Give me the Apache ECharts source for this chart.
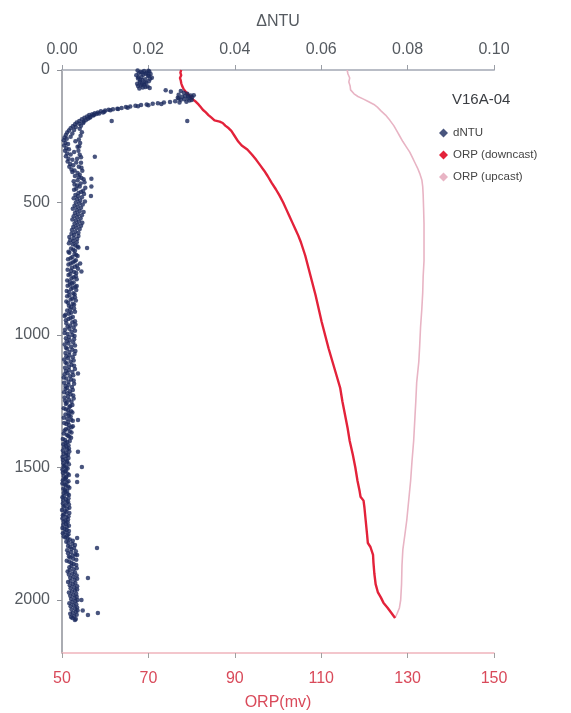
<!DOCTYPE html>
<html>
<head>
<meta charset="utf-8">
<script src="https://cdn.jsdelivr.net/npm/echarts@6/dist/echarts.min.js"></script>
<style>
  html, body { margin: 0; padding: 0; background: #ffffff; }
  #chart { width: 571px; height: 713px; }
</style>
</head>
<body>
<div id="chart"></div>
<script>
// Station profile V16A-04: turbidity anomaly and ORP against depth (m)

// dNTU readings: depth (m) and value
const ntuDepth = [
  2, 4, 6, 8, 10, 12, 15, 18, 20, 23, 26, 29, 32, 35, 38, 42, 45, 48, 52, 55, 58, 62, 66, 70,
  3, 9, 14, 21, 27, 33, 40, 47, 53, 60, 64, 68,
  76, 82, 79,
  86, 90, 93, 96, 98, 101, 103, 105, 107, 110, 112, 115, 118, 120, 123, 95, 100, 108, 113,
  121, 123, 125, 127, 130, 132, 135, 138, 140, 143, 146, 148, 150, 153, 156, 160, 163, 167, 170, 175, 180, 186, 192, 198, 205, 212, 220, 228, 236, 245,
  128, 133, 137, 142, 147, 152, 158, 164, 170, 177, 184, 195, 203, 215, 226, 240, 252,
  160, 166, 172, 180, 190, 200, 210, 222, 235, 248, 262, 275, 290, 305,
  255, 265, 275, 285, 295, 305, 315, 325, 335, 345, 355, 365, 375, 385,
  259, 269, 279, 289, 299, 309, 319, 329, 339, 349, 359, 369, 379, 389,
  320, 335, 350, 365, 380, 395,
  192, 192, 327, 410, 440, 475, 672, 730, 760, 815,
  400, 408, 416, 424, 432, 440, 448, 456, 464, 472, 480, 488, 496, 504, 512, 520, 528, 536, 544, 552, 560, 568, 576, 584, 592, 600,
  404, 412, 420, 428, 436, 444, 452, 460, 468, 476, 484, 492, 500, 508, 516, 524, 532, 540, 548, 556, 564, 572, 580, 588, 596, 604,
  610, 618, 626, 634, 642, 650, 658, 666, 674, 682, 690, 698, 706, 714, 722, 730, 738, 746, 754, 762, 770, 778, 786, 794, 802, 810, 818, 826, 834, 842, 850, 858, 866, 874, 882, 890,
  614, 622, 630, 638, 646, 654, 662, 670, 678, 686, 694, 702, 710, 718, 726, 734, 742, 750, 758, 766, 774, 782, 790, 798, 806, 814, 822, 830, 838, 846, 854, 862, 870, 878, 886, 894,
  900, 908, 916, 924, 932, 940, 948, 956, 964, 972, 980, 988, 996, 1004, 1012, 1020, 1028, 1036, 1044, 1052, 1060, 1068, 1076, 1084, 1092, 1100,
  904, 912, 920, 928, 936, 944, 952, 960, 968, 976, 984, 992, 1000, 1008, 1016, 1024, 1032, 1040, 1048, 1056, 1064, 1072, 1080, 1088, 1096,
  1108, 1116, 1124, 1132, 1140, 1148, 1156, 1164, 1172, 1180, 1188, 1196, 1204, 1212, 1220, 1228, 1236, 1244, 1252, 1260, 1268, 1276, 1284, 1292,
  1104, 1112, 1120, 1128, 1136, 1144, 1152, 1160, 1168, 1176, 1184, 1192, 1200, 1208, 1216, 1224, 1232, 1240, 1248, 1256, 1264, 1272, 1280, 1288, 1296,
  1300, 1308, 1316, 1324, 1332, 1340, 1348, 1356, 1364, 1372, 1380, 1388, 1396, 1404, 1412, 1420, 1428, 1436, 1444, 1452, 1460, 1468, 1476, 1484, 1492,
  1304, 1312, 1320, 1328, 1336, 1344, 1352, 1360, 1368, 1376, 1384, 1392, 1400, 1408, 1416, 1424, 1432, 1440, 1448, 1456, 1464, 1472, 1480, 1488, 1496,
  1500, 1508, 1516, 1524, 1532, 1540, 1548, 1556, 1564, 1572, 1580,
  1504, 1512, 1520, 1528, 1536, 1544, 1552, 1560, 1568, 1576, 1584,
  1588, 1596, 1604, 1612, 1620, 1628, 1636, 1644, 1652, 1660, 1668, 1676, 1684, 1692, 1700, 1708, 1716, 1724, 1732, 1740, 1748, 1756, 1764,
  1592, 1600, 1608, 1616, 1624, 1632, 1640, 1648, 1656, 1664, 1672, 1680, 1688, 1696, 1704, 1712, 1720, 1728, 1736, 1744, 1752, 1760, 1768,
  1772, 1780, 1788, 1796, 1804, 1812, 1820, 1828, 1836, 1844, 1852, 1860, 1868, 1876, 1884, 1892, 1900, 1908, 1916, 1924, 1932, 1940, 1948,
  1956, 1964, 1972, 1980, 1988, 1996, 2004, 2012, 2020, 2028, 2036, 2044, 2052, 2060, 2068, 2075,
  1776, 1784, 1792, 1800, 1808, 1816, 1824, 1832, 1840, 1848, 1856, 1864, 1872, 1880, 1888, 1896, 1904, 1912, 1920, 1928, 1936, 1944,
  1952, 1960, 1968, 1976, 1984, 1992, 2000, 2008, 2016, 2024, 2032, 2040, 2048, 2056, 2064, 2072,
  1145, 1321, 1441, 1498, 1530, 1555, 1766, 1804, 1830, 1917, 2000, 2040, 2057, 2049
];
const ntuValue = [
  0.0175, 0.0190, 0.0202, 0.0182, 0.0196, 0.0178, 0.0205, 0.0188, 0.0172, 0.0199, 0.0184, 0.0208, 0.0176, 0.0193, 0.0186, 0.0201, 0.0180, 0.0195, 0.0174, 0.0190, 0.0183, 0.0198, 0.0187, 0.0179,
  0.0200, 0.0186, 0.0194, 0.0201, 0.0177, 0.0204, 0.0181, 0.0191, 0.0185, 0.0176, 0.0193, 0.0203,
  0.0240, 0.0252, 0.0275,
  0.0282, 0.0290, 0.0270, 0.0298, 0.0285, 0.0278, 0.0301, 0.0268, 0.0292, 0.0283, 0.0275, 0.0295, 0.0262, 0.0288, 0.0272, 0.0305, 0.0292, 0.0270, 0.0300,
  0.0250, 0.0236, 0.0222, 0.0210, 0.0196, 0.0183, 0.0170, 0.0158, 0.0148, 0.0138, 0.0128, 0.0118, 0.0108, 0.0100, 0.0090, 0.0083, 0.0076, 0.0070, 0.0063, 0.0058, 0.0052, 0.0046, 0.0040, 0.0034, 0.0030, 0.0025, 0.0020, 0.0016, 0.0012, 0.0009,
  0.0230, 0.0200, 0.0176, 0.0152, 0.0130, 0.0112, 0.0098, 0.0086, 0.0074, 0.0066, 0.0060, 0.0050, 0.0040, 0.0032, 0.0028, 0.0024, 0.0020,
  0.0095, 0.0080, 0.0072, 0.0064, 0.0055, 0.0049, 0.0044, 0.0041, 0.0046, 0.0043, 0.0039, 0.0042, 0.0036, 0.0038,
  0.0006, 0.0004, 0.0008, 0.0005, 0.0010, 0.0007, 0.0012, 0.0009, 0.0015, 0.0013, 0.0019, 0.0017, 0.0022, 0.0024,
  0.0011, 0.0031, 0.0014, 0.0040, 0.0016, 0.0028, 0.0020, 0.0044, 0.0024, 0.0033, 0.0026, 0.0045, 0.0029, 0.0036,
  0.0041, 0.0035, 0.0044, 0.0039, 0.0047, 0.0041,
  0.0115, 0.0290, 0.0076, 0.0068, 0.0068, 0.0067, 0.0058, 0.0042, 0.0045, 0.0034,
  0.0030, 0.0045, 0.0036, 0.0052, 0.0029, 0.0041, 0.0033, 0.0049, 0.0038, 0.0031, 0.0046, 0.0035, 0.0053, 0.0040, 0.0029, 0.0044, 0.0034, 0.0050, 0.0037, 0.0027, 0.0043, 0.0032, 0.0047, 0.0036, 0.0026, 0.0041,
  0.0039, 0.0050, 0.0027, 0.0043, 0.0035, 0.0054, 0.0028, 0.0044, 0.0051, 0.0037, 0.0027, 0.0042, 0.0032, 0.0048, 0.0036, 0.0025, 0.0041, 0.0030, 0.0046, 0.0035, 0.0024, 0.0039, 0.0029, 0.0044, 0.0033, 0.0023,
  0.0031, 0.0022, 0.0038, 0.0027, 0.0019, 0.0034, 0.0025, 0.0036, 0.0021, 0.0030, 0.0017, 0.0033, 0.0024, 0.0014, 0.0029, 0.0020, 0.0035, 0.0023, 0.0013, 0.0028, 0.0019, 0.0032, 0.0022, 0.0012, 0.0027, 0.0018, 0.0031, 0.0021, 0.0011, 0.0026, 0.0017, 0.0030, 0.0020, 0.0010, 0.0025, 0.0016,
  0.0038, 0.0028, 0.0017, 0.0035, 0.0026, 0.0016, 0.0031, 0.0038, 0.0026, 0.0015, 0.0029, 0.0036, 0.0020, 0.0032, 0.0025, 0.0015, 0.0030, 0.0037, 0.0021, 0.0033, 0.0015, 0.0027, 0.0034, 0.0018, 0.0023, 0.0013, 0.0025, 0.0033, 0.0016, 0.0029, 0.0012, 0.0024, 0.0032, 0.0014, 0.0028, 0.0021,
  0.0028, 0.0012, 0.0021, 0.0008, 0.0025, 0.0015, 0.0030, 0.0010, 0.0019, 0.0027, 0.0007, 0.0022, 0.0013, 0.0029, 0.0009, 0.0018, 0.0026, 0.0006, 0.0021, 0.0012, 0.0031, 0.0008, 0.0017, 0.0025, 0.0005, 0.0020,
  0.0019, 0.0030, 0.0016, 0.0006, 0.0020, 0.0009, 0.0024, 0.0031, 0.0013, 0.0017, 0.0030, 0.0006, 0.0024, 0.0016, 0.0028, 0.0011, 0.0015, 0.0030, 0.0009, 0.0024, 0.0017, 0.0029, 0.0010, 0.0014, 0.0027,
  0.0011, 0.0028, 0.0007, 0.0016, 0.0024, 0.0006, 0.0019, 0.0010, 0.0027, 0.0005, 0.0015, 0.0023, 0.0008, 0.0018, 0.0012, 0.0026, 0.0006, 0.0016, 0.0022, 0.0009, 0.0019, 0.0004, 0.0014, 0.0024,
  0.0008, 0.0022, 0.0016, 0.0030, 0.0009, 0.0013, 0.0026, 0.0004, 0.0021, 0.0015, 0.0028, 0.0008, 0.0012, 0.0025, 0.0005, 0.0020, 0.0014, 0.0027, 0.0007, 0.0011, 0.0024, 0.0017, 0.0009, 0.0021, 0.0015,
  0.0008, 0.0020, 0.0012, 0.0025, 0.0005, 0.0016, 0.0022, 0.0009, 0.0018, 0.0004, 0.0014, 0.0021, 0.0007, 0.0012, 0.0003, 0.0010, 0.0016, 0.0002, 0.0009, 0.0014, 0.0001, 0.0008, 0.0012, 0.0003, 0.0006,
  0.0016, 0.0004, 0.0021, 0.0014, 0.0010, 0.0025, 0.0015, 0.0006, 0.0022, 0.0011, 0.0017, 0.0002, 0.0018, 0.0008, 0.0015, 0.0005, 0.0012, 0.0017, 0.0004, 0.0010, 0.0015, 0.0002, 0.0011, 0.0016, 0.0004,
  0.0010, 0.0001, 0.0007, 0.0013, 0.0004, 0.0009, 0.0002, 0.0011, 0.0006, 0.0014, 0.0003,
  0.0013, 0.0009, 0.0002, 0.0016, 0.0010, 0.0006, 0.0015, 0.0001, 0.0009, 0.0017, 0.0007,
  0.0012, 0.0004, 0.0016, 0.0001, 0.0009, 0.0014, 0.0002, 0.0007, 0.0017, 0.0000, 0.0010, 0.0005, 0.0015, 0.0001, 0.0008, 0.0013, 0.0003, 0.0011, 0.0006, 0.0016, 0.0002, 0.0012, 0.0008,
  0.0008, 0.0013, 0.0005, 0.0015, 0.0003, 0.0011, 0.0016, 0.0004, 0.0012, 0.0007, 0.0017, 0.0002, 0.0010, 0.0014, 0.0004, 0.0009, 0.0016, 0.0001, 0.0011, 0.0007, 0.0015, 0.0004, 0.0013,
  0.0018, 0.0010, 0.0024, 0.0014, 0.0028, 0.0012, 0.0021, 0.0031, 0.0016, 0.0026, 0.0011, 0.0022, 0.0033, 0.0017, 0.0027, 0.0013, 0.0024, 0.0034, 0.0019, 0.0029, 0.0014, 0.0025, 0.0035,
  0.0020, 0.0030, 0.0016, 0.0026, 0.0034, 0.0021, 0.0031, 0.0017, 0.0027, 0.0035, 0.0022, 0.0032, 0.0019, 0.0028, 0.0024, 0.0030,
  0.0025, 0.0015, 0.0030, 0.0019, 0.0022, 0.0032, 0.0014, 0.0025, 0.0019, 0.0033, 0.0017, 0.0027, 0.0022, 0.0034, 0.0018, 0.0030, 0.0016, 0.0026, 0.0035, 0.0020, 0.0031, 0.0018,
  0.0028, 0.0035, 0.0023, 0.0033, 0.0019, 0.0029, 0.0036, 0.0024, 0.0033, 0.0020, 0.0030, 0.0036, 0.0025, 0.0034, 0.0021, 0.0032,
  0.0037, 0.0037, 0.0037, 0.0046, 0.0035, 0.0035, 0.0035, 0.0081, 0.0035, 0.0060, 0.0045, 0.0048, 0.0060, 0.0083
];

// ORP on the way down: depth (m) and mV
const downDepth = [
  0, 10, 20, 30, 40, 50, 60, 70, 80, 90, 100, 110, 120, 130, 140, 150, 160, 170, 180, 190, 195, 200, 210, 220, 230, 250, 270, 285,
  300, 320, 340, 360, 380, 400, 425, 450, 475, 500, 525, 550, 575, 600, 625, 650, 700, 750, 800, 850, 900, 950, 1000,
  1050, 1100, 1150, 1200, 1250, 1300, 1350, 1400, 1450, 1500, 1550, 1590, 1610, 1625, 1650, 1700, 1750, 1785, 1800,
  1830, 1860, 1900, 1940, 1970, 1990, 2010, 2030, 2050, 2068
];
const downOrp = [
  77.6, 77.4, 77.6, 77.3, 77.5, 77.6, 77.8, 78.1, 78.5, 79.1, 79.7, 80.2, 81.0, 81.6, 82.1, 82.6, 83.3, 83.9, 84.6, 85.3, 86.5, 87.2, 87.8, 88.6, 89.2, 90.0, 90.8, 91.6,
  92.9, 94.0, 95.0, 95.9, 96.8, 97.6, 98.5, 99.5, 100.4, 101.2, 101.9, 102.6, 103.3, 104.0, 104.7, 105.3, 106.3, 107.1, 107.9, 108.7, 109.4, 110.1, 110.9,
  111.7, 112.6, 113.5, 114.4, 114.9, 115.5, 116.1, 116.6, 117.3, 117.9, 118.4, 118.9, 119.1, 119.8, 120.0, 120.3, 120.6, 120.8, 121.4,
  122.0, 122.1, 122.3, 122.6, 123.1, 123.8, 124.4, 125.4, 126.3, 127.1
];

// ORP on the way up: depth (m) and mV
const upDepth = [
  0, 15, 30, 45, 60, 75, 90, 100, 110, 120, 130, 140, 155, 170, 190, 210, 230, 250, 270, 290, 310, 330, 350, 370, 390, 415, 440, 470,
  520, 580, 650, 720, 780, 840, 900, 970, 1040, 1100, 1180, 1250, 1310, 1400, 1480, 1550, 1600, 1650, 1700, 1750, 1810, 1870,
  1940, 2000, 2030, 2050, 2068
];
const upOrp = [
  116.0, 116.2, 116.6, 116.4, 116.7, 116.8, 117.6, 118.5, 119.8, 121.0, 122.2, 123.0, 123.9, 124.9, 125.9, 126.8, 127.5, 128.2, 128.9, 129.7, 130.5, 131.1, 131.7, 132.3, 132.8, 133.3, 133.5, 133.6,
  133.7, 133.8, 133.8, 133.8, 133.6, 133.5, 133.3, 133.0, 132.8, 132.6, 132.1, 131.9, 131.7, 131.4, 131.0, 130.7, 130.4, 130.1, 129.8, 129.4, 128.9, 128.7,
  128.6, 128.4, 128.1, 127.6, 127.1
];

// Axis tick values
const depthTicks = [0, 500, 1000, 1500, 2000];
const ntuTicks = [0, 0.02, 0.04, 0.06, 0.08, 0.10];
const orpTicks = [50, 70, 90, 110, 130, 150];

const pair = (xs, ys) => xs.map((x, i) => [x, ys[i]]);

const FONT = 'Liberation Sans, Arial, sans-serif';
const GREY = '#555a60';
const RED = '#d94a5a';

const chart = echarts.init(document.getElementById('chart'), null, { renderer: 'canvas' });

chart.setOption({
  animation: false,
  backgroundColor: '#ffffff',
  textStyle: { fontFamily: FONT },
  title: {
    text: 'V16A-04',
    left: 447,
    top: 87,
    textStyle: { fontFamily: FONT, fontSize: 15, fontWeight: 'normal', color: '#3a3d42' }
  },
  legend: {
    orient: 'vertical',
    left: 434,
    top: 122,
    itemWidth: 9,
    itemHeight: 9,
    itemGap: 10,
    textStyle: { fontFamily: FONT, fontSize: 11.5, color: '#444' },
    data: [
      { name: 'dNTU', icon: 'diamond' },
      { name: 'ORP (downcast)', icon: 'diamond' },
      { name: 'ORP (upcast)', icon: 'diamond' }
    ]
  },
  grid: { left: 62, right: 77, top: 70, bottom: 60, containLabel: false, outerBoundsMode: 'none' },
  xAxis: [
    {
      type: 'value',
      position: 'top',
      min: ntuTicks[0],
      max: ntuTicks[ntuTicks.length - 1],
      interval: 0.02,
      name: 'ΔNTU',
      nameLocation: 'middle',
      nameGap: 40,
      nameTextStyle: { fontFamily: FONT, fontSize: 16, color: GREY },
      axisLine: { show: true, lineStyle: { color: '#b9bdc6', width: 2 } },
      axisTick: { show: true, length: 5, lineStyle: { color: '#9a9ea6' } },
      axisLabel: { fontFamily: FONT, fontSize: 16, color: GREY, margin: 12,
        formatter: v => v.toFixed(2) },
      splitLine: { show: false }
    },
    {
      type: 'value',
      position: 'bottom',
      min: orpTicks[0],
      max: orpTicks[orpTicks.length - 1],
      interval: 20,
      name: 'ORP(mv)',
      nameLocation: 'middle',
      nameGap: 42,
      nameTextStyle: { fontFamily: FONT, fontSize: 16, color: RED },
      axisLine: { show: true, lineStyle: { color: '#f0b4bc', width: 1.5 } },
      axisTick: { show: true, length: 5, lineStyle: { color: '#a0a0a0' } },
      axisLabel: { fontFamily: FONT, fontSize: 16, color: RED, margin: 18 },
      splitLine: { show: false }
    }
  ],
  yAxis: {
    type: 'value',
    inverse: true,
    min: depthTicks[0],
    max: 2200,
    interval: 500,
    axisLine: { show: true, lineStyle: { color: '#8e9198', width: 1.5 } },
    axisTick: { show: true, length: 5, lineStyle: { color: '#8e9198' } },
    axisLabel: { fontFamily: FONT, fontSize: 16, color: GREY, margin: 12, showMaxLabel: false,
      formatter: v => (depthTicks.indexOf(v) >= 0 ? String(v) : '') },
    splitLine: { show: false }
  },
  series: [
    {
      name: 'ORP (upcast)',
      type: 'line',
      xAxisIndex: 1,
      yAxisIndex: 0,
      data: pair(upOrp, upDepth),
      showSymbol: false,
      symbol: 'diamond',
      color: '#e8b4c4',
      lineStyle: { color: '#e8b4c4', width: 1.6 },
      z: 2
    },
    {
      name: 'ORP (downcast)',
      type: 'line',
      xAxisIndex: 1,
      yAxisIndex: 0,
      data: pair(downOrp, downDepth),
      showSymbol: false,
      symbol: 'diamond',
      color: '#e3223a',
      lineStyle: { color: '#e3223a', width: 2.4 },
      z: 3
    },
    {
      name: 'dNTU',
      type: 'scatter',
      xAxisIndex: 0,
      yAxisIndex: 0,
      data: pair(ntuValue, ntuDepth),
      symbol: 'circle',
      symbolSize: 4.5,
      color: '#1b2a5e',
      itemStyle: { color: '#1b2a5e' },
      z: 4
    }
  ]
});
</script>
</body>
</html>
